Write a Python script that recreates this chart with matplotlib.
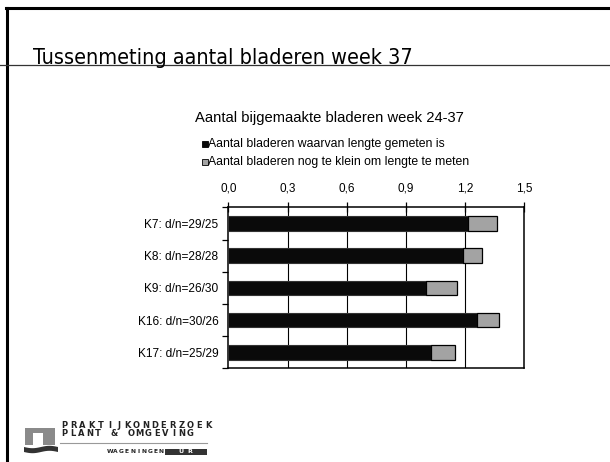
import numpy as np
import matplotlib.pyplot as plt
from matplotlib import font_manager
from matplotlib.patches import Rectangle, Polygon
from matplotlib.lines import Line2D

# data
categories = ['K7: d/n=29/25', 'K8: d/n=28/28', 'K9: d/n=26/30', 'K16: d/n=30/26', 'K17: d/n=25/29']
gemeten = [1.215, 1.187, 1.000, 1.261, 1.025]
te_klein = [0.147, 0.101, 0.160, 0.111, 0.123]
xticks = [0.0, 0.3, 0.6, 0.9, 1.2, 1.5]
xticklabels = ['0,0', '0,3', '0,6', '0,9', '1,2', '1,5']
legend_labels = ['Aantal bladeren waarvan lengte gemeten is',
                 'Aantal bladeren nog te klein om lengte te meten']

W, H = 610, 462
plt.rcParams['font.family'] = ['Liberation Sans', 'DejaVu Sans']

fig = plt.figure(figsize=(W / 100, H / 100), dpi=100)


def fx(x):
    return x / W


def fy(y):
    return 1 - y / H


# slide frame
fig.add_artist(Line2D([fx(6), 1], [fy(8.3), fy(8.3)], color='black', lw=2.2))
fig.add_artist(Line2D([fx(7), fx(7)], [fy(8.3), 0], color='black', lw=2.2))
fig.add_artist(Line2D([0, 1], [fy(64.8), fy(64.8)], color='#333333', lw=0.9))

# slide title: regular condensed font if one is installed, otherwise shrink to fit
title = 'Tussenmeting aantal bladeren week 37'
narrow_names = ('Liberation Sans Narrow', 'Arial Narrow', 'Roboto Condensed', 'Open Sans Condensed')
narrow = None
for f in font_manager.fontManager.ttflist:
    is_narrow = f.name in narrow_names or (f.name == 'DejaVu Sans' and 'ondensed' in str(f.stretch))
    if is_narrow and f.style == 'normal' and f.weight in (400, 'normal', 'regular'):
        narrow = f
        break
if narrow is not None:
    t = fig.text(fx(33), fy(63.5), title,
                 fontproperties=font_manager.FontProperties(fname=narrow.fname, size=21),
                 va='baseline', ha='left')
else:
    t = fig.text(fx(33), fy(63.5), title, fontsize=21, va='baseline', ha='left')
fig.canvas.draw()
w = t.get_window_extent().width
t.set_fontsize(21 * min(1.0, 380 / w))

# chart
left, right, top, bottom = 228.3, 524.3, 207.3, 368.4
ax = fig.add_axes([fx(left), fy(bottom), fx(right) - fx(left), fy(top) - fy(bottom)])
y = np.arange(len(categories))
ax.barh(y, gemeten, height=0.45, color='#0a0a0a', edgecolor='#333333', lw=0.8, zorder=3)
ax.barh(y, te_klein, left=gemeten, height=0.45, color='#a3a3a3', edgecolor='black',
        lw=0.9, zorder=3)
ax.set_xlim(0, 1.5)
ax.set_ylim(len(categories) - 0.5, -0.5)
ax.xaxis.tick_top()
ax.set_xticks(xticks)
ax.set_xticklabels(xticklabels, fontsize=8.5)
ax.tick_params(axis='x', direction='inout', length=7, width=0.9, pad=5.5)
ax.set_yticks(y)
ax.set_yticklabels(categories, fontsize=8.6)
ax.tick_params(axis='y', which='major', length=0, pad=7)
ax.set_yticks(np.arange(-0.5, len(categories)), minor=True)
ax.tick_params(axis='y', which='minor', length=4, width=0.9, direction='out')
for v in xticks[1:-1]:
    ax.axvline(v, color='black', lw=0.8, zorder=1)
for s in ax.spines.values():
    s.set_linewidth(1.1)

fig.text(fx(329), fy(118.3), 'Aantal bijgemaakte bladeren week 24-37', fontsize=10.6,
         ha='center', va='center')
leg_colors = ['#0a0a0a', '#a3a3a3']
leg_y = [143.5, 161.5]
for c, ly, lab in zip(leg_colors, leg_y, legend_labels):
    fig.add_artist(Rectangle((fx(201.5), fy(ly + 3)), fx(6), 6 / H, facecolor=c,
                             edgecolor='black', lw=0.6))
    fig.text(fx(208), fy(ly), lab, fontsize=8.8, ha='left', va='center')

# logo
fig.add_artist(Rectangle((fx(25), fy(445)), fx(30), 17 / H, facecolor='#8a8a8a', lw=0))
fig.add_artist(Rectangle((fx(33), fy(445)), fx(10), 12 / H, facecolor='white', lw=0))
wave_x = np.linspace(24, 58, 30)
top_w = 447 + 1.2 * np.sin((wave_x - 24) / 34 * np.pi * 2)
fig.add_artist(Polygon(np.column_stack([fx(wave_x), fy(top_w)]).tolist()
                       + np.column_stack([fx(wave_x[::-1]), fy(top_w[::-1] + 5)]).tolist(),
                       closed=True, facecolor='#333333', lw=0))


def spaced(text, x0, step, yy, size, color='#222222'):
    for i, ch in enumerate(text):
        fig.text(fx(x0 + (i + 0.5) * step), fy(yy), ch, fontsize=size, ha='center',
                 va='center', family=['DejaVu Sans'], weight='bold', color=color)


spaced('PRAKTIJKONDERZOEK', 60, 9.0, 425.5, 6.0)
spaced('PLANT & OMGEVING', 60, 8.4, 434, 6.0)
fig.add_artist(Line2D([fx(60), fx(207)], [fy(442.7), fy(442.7)], color='#999999', lw=0.8))
spaced('WAGENINGEN', 107, 5.7, 451.5, 4.3)
fig.add_artist(Rectangle((fx(164.5), fy(454.5)), fx(42), 6 / H, facecolor='#333333', lw=0))
spaced('UR', 176, 9, 451.5, 4.5, color='white')

fig.savefig('out.png', dpi=100)
